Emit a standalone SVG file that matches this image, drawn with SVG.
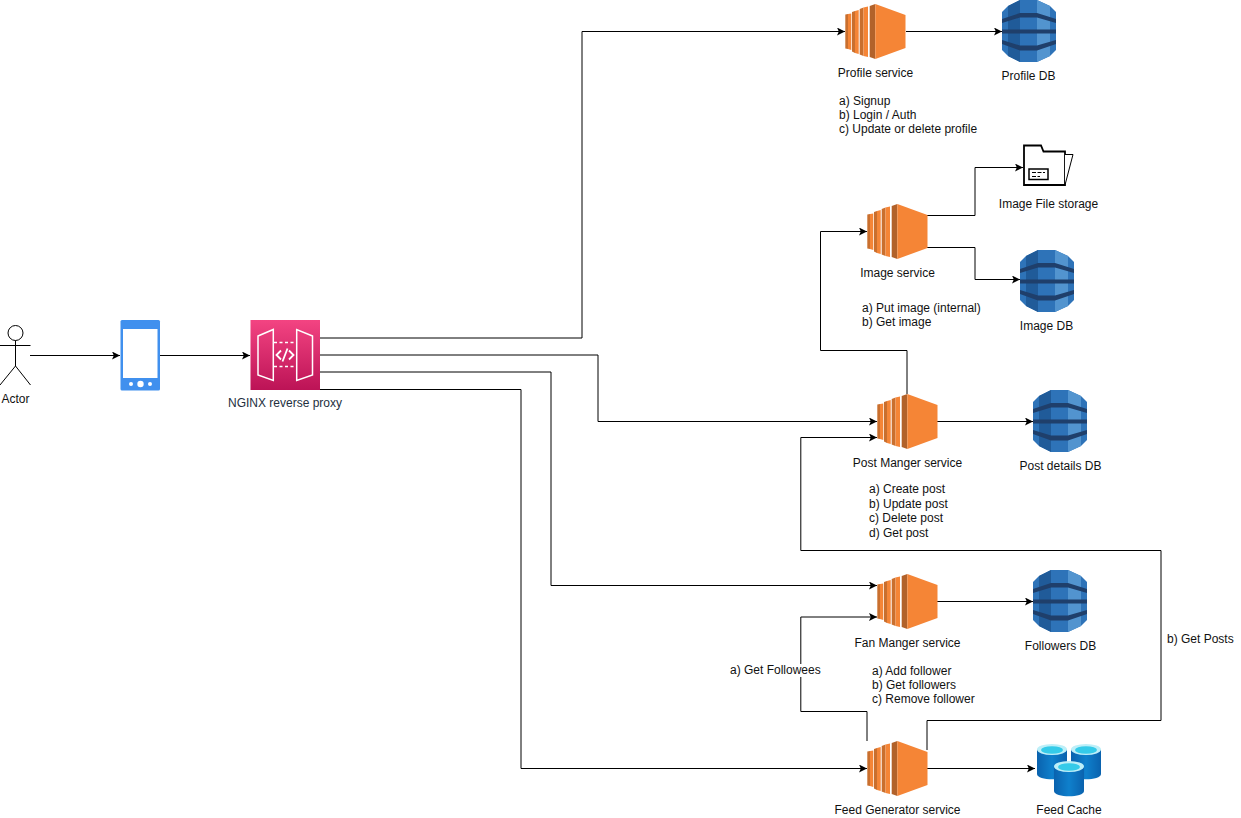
<svg xmlns="http://www.w3.org/2000/svg" width="1241" height="818" viewBox="0 0 1241 818">
<style>
text{font-family:"Liberation Sans",Arial,sans-serif;font-size:12px;fill:#111}
.c{fill:none;stroke:#000;stroke-width:1;marker-end:url(#arrow)}
.m{text-anchor:middle}
</style>
<defs>
<marker id="arrow" markerUnits="userSpaceOnUse" markerWidth="10" markerHeight="10" refX="8" refY="4" orient="auto"><path d="M0 0L8 4L0 8L1.800 4Z" fill="#000"/></marker>
<g id="ec2">
<path d="M0.300 10.500L3 10V45L0.300 44.500Z" fill="#c96f2e"/><path d="M3 10L6.300 9.500V46L3 45Z" fill="#f58536"/>
<path d="M7 8L10 7V49L7 47.500Z" fill="#c96f2e"/><path d="M10 7L13.700 6V50L10 49Z" fill="#f58536"/>
<path d="M14.700 5L18.500 3.500V52L14.700 50.500Z" fill="#c96f2e"/><path d="M18.500 3.500L23 2.500V53L18.500 52Z" fill="#f58536"/>
<path d="M24.700 2L30.300 0V55L24.700 53Z" fill="#b2622a"/>
<path d="M30.300 0L60.500 11V44L30.300 55Z" fill="#f58536"/>
</g>
<g id="ddb">
<path d="M18 0H35L48 6L54 12V50L48 56L35 62H18L6 56L0 50V12L6 6Z" fill="#2e73b8"/>
<path d="M6 6L18 0V62L6 56Z" fill="#205b99"/>
<path d="M35 0L48 6V56L35 62Z" fill="#5294cf"/>
<path d="M0 19L18 13H35L54 19V23L35 17.500H18L0 23Z" fill="#1f3f6b"/>
<path d="M0 29.500H54V33.500H0Z" fill="#1f3f6b"/>
<path d="M0 40L18 45.500H35L54 40V44L35 50.500H18L0 44Z" fill="#1f3f6b"/>
</g>
<linearGradient id="pink" x1="0" y1="0" x2="0" y2="1"><stop offset="0" stop-color="#f34482"/><stop offset="1" stop-color="#bc1356"/></linearGradient>
<linearGradient id="blue" x1="0" y1="0" x2="1" y2="0"><stop offset="0" stop-color="#0a62ae"/><stop offset="0.500" stop-color="#0f80cc"/><stop offset="1" stop-color="#0a62ae"/></linearGradient>
<g id="cyl">
<path d="M0 5.500V30C0 37 30 37 30 30V5.500Z" fill="url(#blue)"/>
<ellipse cx="15" cy="5.500" rx="15" ry="5.500" fill="#bdeff8"/>
<ellipse cx="15" cy="6" rx="11" ry="3.800" fill="#35cbe9"/>
</g>
</defs>
<g id="connectors">
<path class="c" d="M30 355.500H120"/>
<path class="c" d="M160 355.500H250"/>
<path class="c" d="M320 338H582V31.500H845"/>
<path class="c" d="M320 355H598V421.500H877"/>
<path class="c" d="M320 372H551V585.500H877"/>
<path class="c" d="M320 389.500H521V768.500H867"/>
<path class="c" d="M906 31.500H1002"/>
<path class="c" d="M927 215.500H975V167.500H1023"/>
<path class="c" d="M927 247.500H975V279.500H1020"/>
<path class="c" d="M907 394V350.500H820.500V231.500H867"/>
<path class="c" d="M937 421.500H1033"/>
<path class="c" d="M937 601.500H1033"/>
<path class="c" d="M867 741V711.500H800.800V617H877"/>
<path class="c" d="M927 750V720.500H1161V550.500H800.800V437.500H877"/>
<path class="c" d="M927 768.500H1035"/>
</g>
<g id="actor" fill="none" stroke="#000" stroke-width="1">
<circle cx="15.500" cy="333" r="7.500" fill="#fff"/>
<path d="M15.500 340.500V366M0 345.500H30.500M15.500 366L0 385M15.500 366L30.500 385"/>
<text class="m" x="15.500" y="403" stroke="none" style="fill:#111">Actor</text>
</g>
<g id="phone">
<rect x="120.500" y="320" width="39.500" height="70.500" rx="1.500" fill="#4090ee"/>
<rect x="123" y="329" width="34.500" height="49" fill="#fff"/>
<circle cx="131" cy="384" r="2" fill="#fff"/><circle cx="140.500" cy="384" r="3.200" fill="#fff"/><circle cx="150" cy="384" r="2" fill="#fff"/>
</g>
<g id="nginx">
<rect x="250.500" y="320" width="69.500" height="70" fill="url(#pink)"/>
<g fill="none" stroke="#fff" stroke-width="1.500">
<path d="M258 336L273.300 329.500V380.500L258 375Z"/>
<path d="M312.500 336L296.700 329.500V380.500L312.500 375Z"/>
<path d="M274 342.500H296M274 366.500H296" stroke-dasharray="3 2.500"/>
<path d="M281 350.500L276.500 355L281 359.500M289 350.500L293.500 355L289 359.500M287.500 348.500L282.500 361.500" stroke-width="1.800"/>
</g>
<text class="m" x="285" y="407" style="fill:#232f3e">NGINX reverse proxy</text>
</g>
<g id="profile-service"><use href="#ec2" x="845" y="4"/><text class="m" x="875.500" y="77">Profile service</text>
<text x="839" y="105">a) Signup</text><text x="839" y="119">b) Login / Auth</text><text x="839" y="133">c) Update or delete profile</text></g>
<g id="profile-db"><use href="#ddb" x="1002" y="0"/><text class="m" x="1028.500" y="80">Profile DB</text></g>
<g id="image-storage">
<path d="M1024 145.500H1041L1043.500 151.500H1065V185H1024Z" fill="#fff" stroke="#000" stroke-width="1.800"/>
<path d="M1065 154.500H1073L1065 185" fill="#fff" stroke="#000" stroke-width="1"/>
<rect x="1029" y="169" width="19" height="10.500" fill="#fff" stroke="#000" stroke-width="1.500"/>
<path d="M1032 172.500H1045M1032 176.500H1040" stroke="#000" stroke-width="1.200" stroke-dasharray="4 1.500"/>
<text class="m" x="1048.500" y="208">Image File storage</text></g>
<g id="image-service"><use href="#ec2" x="867" y="204"/><text class="m" x="897.500" y="277">Image service</text>
<text x="862" y="312">a) Put image (internal)</text><text x="862" y="326">b) Get image</text></g>
<g id="image-db"><use href="#ddb" x="1020" y="250"/><text class="m" x="1046.500" y="330">Image DB</text></g>
<g id="post-service"><use href="#ec2" x="877" y="394"/><text class="m" x="907.500" y="467">Post Manger service</text>
<text x="869" y="493">a) Create post</text><text x="869" y="508">b) Update post</text><text x="869" y="522">c) Delete post</text><text x="869" y="537">d) Get post</text></g>
<g id="post-db"><use href="#ddb" x="1033" y="390"/><text class="m" x="1060.500" y="470">Post details DB</text></g>
<g id="fan-service"><use href="#ec2" x="877" y="574"/><text class="m" x="907.500" y="647">Fan Manger service</text>
<text x="872" y="675">a) Add follower</text><text x="872" y="689">b) Get followers</text><text x="872" y="703">c) Remove follower</text></g>
<g id="followers-db"><use href="#ddb" x="1033" y="570"/><text class="m" x="1060.500" y="650">Followers DB</text></g>
<g id="feed-service"><use href="#ec2" x="867" y="741"/><text class="m" x="897.500" y="814">Feed Generator service</text></g>
<g id="feed-cache"><use href="#cyl" x="1037" y="744"/><use href="#cyl" x="1071" y="744"/><use href="#cyl" x="1054" y="761"/><text class="m" x="1069" y="814">Feed Cache</text></g>
<g id="label-followees"><rect x="730" y="664" width="91" height="13" fill="#fff"/><text x="730" y="674">a) Get Followees</text></g>
<text id="label-posts" x="1167" y="643">b) Get Posts</text>
</svg>
